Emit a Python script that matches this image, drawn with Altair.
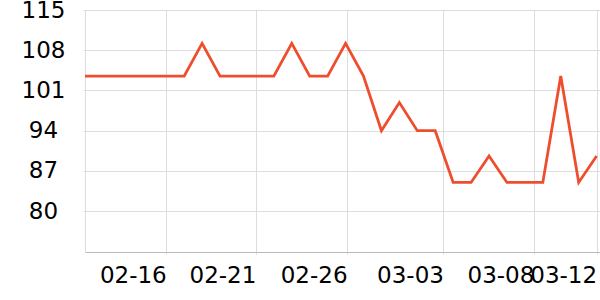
import altair as alt
import pandas as pd

dates = [
    "2023-02-11", "2023-02-12", "2023-02-13", "2023-02-14", "2023-02-15",
    "2023-02-16", "2023-02-17", "2023-02-18", "2023-02-19", "2023-02-20",
    "2023-02-21", "2023-02-22", "2023-02-23", "2023-02-24", "2023-02-25",
    "2023-02-26", "2023-02-27", "2023-02-28", "2023-03-01", "2023-03-02",
    "2023-03-03", "2023-03-04", "2023-03-05", "2023-03-06", "2023-03-07",
    "2023-03-08", "2023-03-09", "2023-03-10", "2023-03-11", "2023-03-12",
]
values = [
    103.5, 103.5, 103.5, 103.5, 103.5,
    103.5, 103.5, 109.2, 103.5, 103.5,
    103.5, 103.5, 109.2, 103.5, 103.5,
    109.2, 103.5, 94.0, 98.9, 94.0,
    94.0, 85.0, 85.0, 89.6, 85.0,
    85.0, 85.0, 103.5, 85.0, 89.6,
]
y_ticks = [80, 87, 94, 101, 108, 115]
x_ticks = [
    alt.DateTime(year=2023, month=2, date=16, hours=0, utc=True),
    alt.DateTime(year=2023, month=2, date=21, hours=0, utc=True),
    alt.DateTime(year=2023, month=2, date=26, hours=2, utc=True),
    alt.DateTime(year=2023, month=3, date=3, hours=11, utc=True),
    alt.DateTime(year=2023, month=3, date=8, hours=12, utc=True),
    alt.DateTime(year=2023, month=3, date=12, hours=0, utc=True),
]
x_domain = [
    alt.DateTime(year=2023, month=2, date=11, hours=11, minutes=17, utc=True),
    alt.DateTime(year=2023, month=3, date=12, hours=4, minutes=31, utc=True),
]

df = pd.DataFrame({"date": dates, "value": values})

FONT = "DejaVu Sans"
GRID = "#dddddd"

chart = alt.Chart(df).mark_line(
    color="#ee4d2e", strokeWidth=2.8, clip=True
).encode(
    x=alt.X(
        "date:T",
        scale=alt.Scale(type="utc", domain=x_domain, nice=False),
        axis=alt.Axis(
            values=x_ticks,
            labelExpr="utcFormat(datum.value, '%m-%d')",
            labelAlign="right",
            labelOverlap=False,
            labelFlush=False,
            title=None,
            grid=True,
            gridColor=GRID,
            tickSize=2,
            tickColor=GRID,
            domainColor="#bbbbbb",
            labelFont=FONT,
            labelFontSize=23,
            labelColor="#000000",
            labelPadding=10.5,
        ),
    ),
    y=alt.Y(
        "value:Q",
        scale=alt.Scale(domain=[72.9, 115], nice=False, zero=False),
        axis=alt.Axis(
            values=y_ticks,
            labelAlign="center",
            labelPadding=40,
            title=None,
            grid=True,
            gridColor=GRID,
            tickSize=2,
            tickColor=GRID,
            domainColor=GRID,
            labelFont=FONT,
            labelFontSize=23,
            labelColor="#000000",
        ),
    ),
).properties(
    width=515,
    height=242,
    autosize=alt.AutoSizeParams(type="none"),
    padding={"left": 85, "top": 10, "right": 0, "bottom": 48},
    background="white",
).configure_view(stroke=None)

chart.save("out.html", embed_options={"renderer": "svg", "actions": False})
